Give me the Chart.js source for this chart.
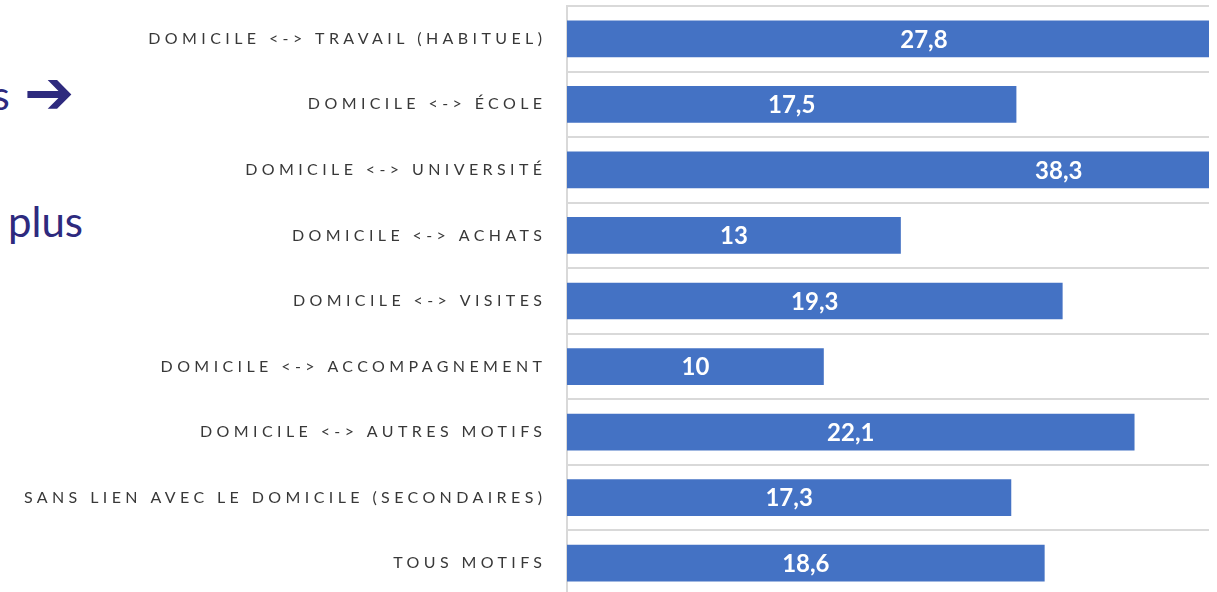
<!DOCTYPE html>
<html>
<head>
<meta charset="utf-8">
<script src="https://cdn.jsdelivr.net/npm/chart.js@4"></script>
<style>
  html, body { margin: 0; padding: 0; background: #ffffff; overflow: hidden; }
  #wrap { position: relative; width: 1217px; height: 592px; overflow: hidden; }
  #chart { position: absolute; left: 0; top: 0; }
  .slide { position: absolute; color: #2E2A7E; font-family: Lato, "Open Sans", sans-serif; white-space: nowrap; line-height: 1; }
</style>
</head>
<body>
<div id="wrap">
  <div class="slide" style="left:-8px; top:74px; font-size:41px;">s</div>
  <div class="slide" style="left:24px; top:62px; font-size:60px; font-family:'DejaVu Sans'; font-weight:bold;">➔</div>
  <div class="slide" style="left:8px; top:200px; font-size:42px;">plus</div>
  <canvas id="chart" width="1217" height="602"></canvas>
</div>
<script>
const categories = [
  "DOMICILE <-> TRAVAIL (HABITUEL)",
  "DOMICILE <-> ÉCOLE",
  "DOMICILE <-> UNIVERSITÉ",
  "DOMICILE <-> ACHATS",
  "DOMICILE <-> VISITES",
  "DOMICILE <-> ACCOMPAGNEMENT",
  "DOMICILE <-> AUTRES MOTIFS",
  "SANS LIEN AVEC LE DOMICILE (SECONDAIRES)",
  "TOUS MOTIFS"
];
const values = [27.8, 17.5, 38.3, 13, 19.3, 10, 22.1, 17.3, 18.6];
const axisMin = 0;
const axisMax = 25;

const LETTER_SPACING = 4.4;

const spacingPlugin = {
  id: 'spacing',
  beforeDraw(chart) { chart.ctx.letterSpacing = LETTER_SPACING + 'px'; },
  afterDraw(chart) { chart.ctx.letterSpacing = '0px'; }
};

const valueLabels = {
  id: 'valueLabels',
  afterDatasetsDraw(chart) {
    const ctx = chart.ctx;
    const xs = chart.scales.x;
    const meta = chart.getDatasetMeta(0);
    ctx.save();
    ctx.letterSpacing = '0px';
    ctx.fillStyle = '#ffffff';
    ctx.font = 'bold 24px Lato, "Open Sans", sans-serif';
    ctx.textAlign = 'center';
    ctx.textBaseline = 'middle';
    meta.data.forEach((bar, i) => {
      const v = values[i];
      const x = xs.getPixelForValue(v / 2);
      ctx.fillText(String(v).replace('.', ','), x, bar.y + 1);
    });
    ctx.restore();
  }
};

new Chart(document.getElementById('chart'), {
  type: 'bar',
  data: {
    labels: categories,
    datasets: [{
      data: values,
      backgroundColor: '#4472C4',
      borderWidth: 0,
      barPercentage: 0.56,
      categoryPercentage: 1.0
    }]
  },
  options: {
    indexAxis: 'y',
    responsive: false,
    animation: false,
    devicePixelRatio: 1,
    layout: { padding: { top: 6, bottom: 6, right: 8, left: 0 } },
    plugins: { legend: { display: false }, tooltip: { enabled: false } },
    scales: {
      x: {
        display: false,
        min: axisMin,
        max: axisMax
      },
      y: {
        afterFit(scale) {
          scale.width = 567;
          scale.paddingTop = 0;
          scale.paddingBottom = 0;
        },
        grid: { display: true, offset: true, color: '#D9D9D9', lineWidth: 2, drawTicks: true, tickLength: 25 - LETTER_SPACING, tickColor: 'rgba(0,0,0,0)' },
        border: { display: true, color: '#D9D9D9', width: 2 },
        ticks: {
          color: '#383838',
          font: { family: 'Lato, "Open Sans", sans-serif', size: 16 },
          padding: 0,
          autoSkip: false
        }
      }
    }
  },
  plugins: [spacingPlugin, valueLabels]
});
</script>
</body>
</html>
